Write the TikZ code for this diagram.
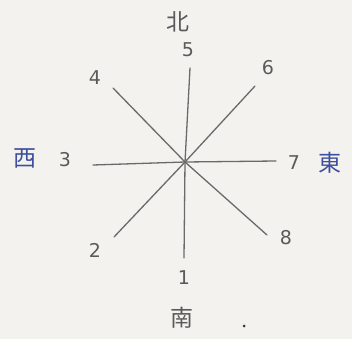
\documentclass[tikz,border=0pt]{standalone}
\usepackage{fontspec}
\setmainfont{DejaVu Sans}
\newfontfamily\cjk{Noto Sans CJK JP}
\definecolor{paper}{HTML}{F3F2EE}
\definecolor{pencil}{HTML}{6A6A6A}
\definecolor{ink}{HTML}{3D4F9E}
\begin{document}
\begin{tikzpicture}[x=1pt,y=-1pt,
  ray/.style={draw=pencil,line width=1.3pt,line cap=round},
  num/.style={text=pencil!85!black,font=\fontsize{19}{19}\selectfont,inner sep=0pt},
  dirp/.style={text=pencil!85!black,font=\cjk\fontsize{23}{23}\selectfont,inner sep=0pt},
  dirb/.style={text=ink,font=\cjk\fontsize{23}{23}\selectfont,inner sep=0pt}]
\fill[paper] (0,0) rectangle (352,339);
\useasboundingbox (0,0) rectangle (352,339);
\coordinate (c) at (185,162);
\coordinate (n) at (190,68);
\coordinate (s) at (184,258);
\coordinate (w) at (93,165);
\coordinate (e) at (276,161);
\coordinate (nw) at (113,88);
\coordinate (se) at (267,235);
\coordinate (ne) at (255,86);
\coordinate (sw) at (114,237);
\draw[ray] (n) -- (c) -- (s);
\draw[ray] (w) -- (c) -- (e);
\draw[ray] (nw) -- (c) -- (se);
\draw[ray] (ne) -- (c) -- (sw);
\node[dirp] (bei) at (178,22) {北};
\node[num] (l5) at (188,50) {5};
\node[num] (l4) at (95,78) {4};
\node[num] (l6) at (268,68) {6};
\node[dirb] (xi) at (25,158) {西};
\node[num] (l3) at (65,160) {3};
\node[num] (l7) at (294,163) {7};
\node[dirb] (dong) at (330,163) {東};
\node[num] (l2) at (95,250) {2};
\node[num] (l8) at (286,238) {8};
\node[num] (l1) at (184,278) {1};
\node[dirp] (nan) at (182,318) {南};
\fill[black!80] (244,326) circle (1.5);
\end{tikzpicture}
\end{document}
